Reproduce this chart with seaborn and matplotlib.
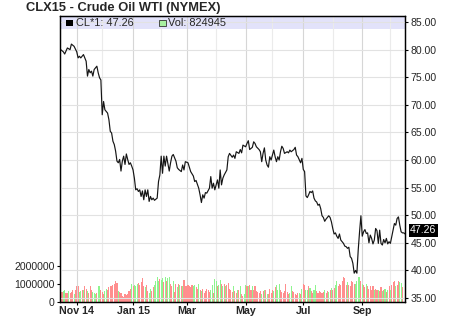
import numpy as np
import pandas as pd
import matplotlib
matplotlib.use("Agg")
import matplotlib.pyplot as plt
from matplotlib.patches import Rectangle
from matplotlib.ticker import FixedLocator
import seaborn as sns

# ---------------- data ----------------
title = "CLX15 - Crude Oil WTI (NYMEX)"
last_price = 47.26
last_volume = 824945

# trading-day number of each price reading, and the settle price
price_day = [0, 2, 3, 5, 7, 8, 10, 12, 13, 14, 15, 17, 18, 19, 20, 21, 22, 23, 24, 25,
             27, 28, 29, 30, 31, 32, 33, 35, 36, 37, 38, 39, 40, 41, 42, 43, 44, 45, 46, 47,
             48, 49, 50, 51, 52, 53, 54, 55, 56, 57, 58, 59, 60, 61, 62, 63, 64, 65, 66, 67,
             68, 69, 70, 71, 72, 73, 74, 75, 76, 77, 78, 79, 81, 82, 83, 84, 86, 87,
             88, 90, 91, 92, 93, 95, 96, 97, 99, 100, 101, 103, 104, 105, 106, 107, 108, 109,
             111, 112, 113, 114, 115, 117, 118, 119, 120, 121, 122, 124, 125, 126, 128, 129,
             130, 131, 133, 134, 135, 136, 138, 139, 140, 141, 143, 144, 145, 146, 148, 149,
             150, 151, 152, 153, 154, 155, 156, 157, 159, 160, 161, 162, 163, 164, 165, 166,
             167, 169, 170, 171, 172, 174, 175,
             176, 177, 179, 180, 181, 182, 183, 184, 185, 186, 187, 188, 189, 190, 191, 192,
             193, 194, 195, 196, 197, 198, 200, 201, 202, 203, 204, 205, 206, 207, 208, 209,
             210, 211, 212, 213, 214, 215, 216, 217, 218, 219, 220, 221, 222, 223, 224, 225,
             226, 227, 228, 229, 230, 231, 232, 233, 234, 235, 236, 237, 238, 239, 240, 241,
             242, 243, 244, 245, 246, 247, 248, 249, 250, 251, 252, 253, 254, 255, 256, 257, 258]
price = [80.0, 79.6, 79.2, 80.3, 80.0, 81.0, 80.6, 79.6, 78.5, 78.8, 78.5, 79.1, 78.5, 77.9, 75.2, 76.4, 75.8, 76.1, 75.2, 76.4,
         77.0, 75.8, 74.9, 74.5, 68.2, 70.6, 69.1, 68.5, 67.3, 65.2, 64.9, 63.4, 62.8, 61.6, 59.8, 59.5, 60.1, 58.0, 59.8, 60.7,
         59.2, 61.1, 60.1, 59.2, 59.5, 58.9, 58.2, 56.7, 54.6, 54.8, 54.3, 54.6, 53.4, 54.4, 52.8, 54.6, 53.4, 54.6, 52.5, 53.4,
         52.8, 53.1, 52.7, 52.9, 53.1, 56.1, 57.3, 60.7, 57.6, 60.7, 58.9, 60.7, 58.0, 59.5, 60.7, 61.0, 59.8, 58.6,
         58.3, 57.9, 59.1, 58.2, 59.7, 59.5, 58.7, 57.9, 57.1, 56.1, 56.3, 54.9, 53.7, 52.3, 53.7, 53.1, 54.1, 54.0,
         54.9, 57.0, 54.9, 55.8, 54.6, 56.4, 54.9, 58.2, 55.5, 56.7, 57.3, 58.2, 60.6, 61.2, 60.5, 60.9,
         60.3, 61.5, 61.2, 61.9, 61.3, 62.7, 62.4, 63.0, 63.5, 61.9, 62.3, 63.3, 63.0, 62.4, 61.9, 61.5,
         59.7, 61.2, 62.2, 60.0, 59.1, 58.7, 60.6, 60.0, 61.8, 60.6, 59.7, 60.6, 60.0, 61.5, 62.5, 62.1,
         61.2, 61.5, 61.3, 61.8, 61.5, 61.9, 62.3,
         60.9, 60.6, 59.5, 60.3, 58.3, 57.9, 53.5, 53.2, 53.7, 54.3, 54.1, 54.4, 53.1, 52.6, 52.4, 51.8,
         52.0, 51.2, 49.9, 49.6, 48.9, 49.3, 49.9, 49.6, 48.8, 47.6, 46.6, 46.8, 46.2, 45.8, 46.6, 45.5,
         45.2, 44.9, 44.4, 44.3, 44.0, 44.2, 42.5, 42.2, 41.3, 39.5, 40.0, 39.5, 43.7, 47.0, 49.9, 46.2,
         47.0, 47.4, 46.7, 46.8, 45.0, 46.4, 45.8, 44.8, 45.5, 47.6, 47.2, 44.9, 47.3, 44.9, 44.6, 45.6,
         45.0, 45.8, 44.8, 45.2, 44.9, 46.1, 47.3, 48.5, 48.2, 49.4, 49.7, 48.2, 47.0, 46.8, 46.8, 46.6, 47.26]

# daily volume (thousands of contracts), one per trading day
volume_k = [607, 554, 607, 643, 500, 500, 607, 500, 554, 643,
            464, 679, 857, 857, 554, 607, 643, 679, 857, 732,
            607, 500, 857, 643, 554, 500, 464, 500, 857, 857,
            643, 554, 464, 607, 732, 679, 821, 857, 857, 911,
            1000, 1179, 1036, 607, 554, 500, 321, 250, 429, 375,
            429, 607, 732, 964, 857, 911, 857, 1000, 1036, 911,
            1089, 1321, 857, 821, 911, 607, 500, 732, 607, 821,
            911, 1143, 1357, 1179, 1268, 1214, 1321, 1089, 1357, 1143,
            1321, 1357, 1000, 857, 1143, 554, 964, 821, 964, 911,
            857, 857, 1214, 857, 857, 911, 857, 821, 911, 857,
            911, 821, 732, 1000, 679, 607, 732, 500, 607, 732,
            679, 554, 679, 911, 500, 1268, 1143, 857, 911, 1214,
            1000, 857, 1000, 857, 911, 1036,
            732, 679, 554, 857, 607, 500, 643, 679, 857, 429,
            321, 464, 911, 857, 857, 911, 679, 857, 643, 857,
            607, 554, 500, 607, 429, 607, 679, 643, 464, 429,
            732, 500, 679, 607, 821, 911, 679, 964, 643, 554,
            500, 607, 964, 554, 464, 500, 857, 607, 554, 429,
            375, 500, 500, 429, 732, 964, 911, 643, 643, 857,
            786, 607, 500, 643, 911, 607, 500, 607, 554, 500,
            554, 643, 500, 607, 554, 643, 786, 679, 786, 911,
            1179, 857, 964, 911, 1179, 1357, 1321, 911, 1089, 911,
            857, 1143, 1089, 1000, 964, 1179, 1357, 1357, 1179, 964,
            911, 821, 964, 857, 732, 857, 679, 857, 679, 732,
            643, 643, 607, 821, 607, 679, 732, 554, 643, 857,
            679, 911, 1089, 1143, 857, 911, 1179, 1089, 1036, 825]

# G = up day (green bar), R = down day (red bar)
direction = ("GRGGRRGRRR" "GRRRGGRGRR" "GRRRGGGRGG" "RRRGGRRRRR" "RRRGRRRRRR"
             "RRRGRGGGRR" "RRRGRRGGRR" "GGGGRGGRGR" "GGRRGRRGRG" "RGRRRRRRRG"
             "GRRGRGRRRR" "RRGGRGGRGG" "RGRGRR"
             "RRRGRRGRGR" "RGGRGRRGRR" "RRRRGRGRGR" "RRRGRGGGRR" "RRRRRGGRRR"
             "RRGRGRRGGR" "GRRGGRRRRR" "RGRRGRGRRG" "GRRRRRRRGR" "RRRRGGGGRG"
             "RRGRRRRRGR" "RGRRGRGRGR" "GRRRGRRGGR")

month_day = [12, 54, 94, 138, 181, 225]
month_labels = ["Nov 14", "Jan 15", "Mar", "May", "Jul", "Sep"]
mid_month_day = [31, 75, 116, 158, 203, 246]
price_ticks = [35, 40, 45, 50, 55, 60, 65, 70, 75, 80, 85]
volume_ticks = [0, 1000000, 2000000]

# ---------------- style ----------------
sns.set_style("white")
plt.rcParams['font.family'] = ['Liberation Sans', 'DejaVu Sans']
FS = 7.6

n = min(len(volume_k), len(direction))
vol_df = pd.DataFrame({"day": np.arange(n),
                       "volume": np.array(volume_k[:n]) * 1000,
                       "direction": list(direction[:n])})
price_df = pd.DataFrame({"day": price_day, "price": price})

fig = plt.figure(figsize=(4.5, 3.17), dpi=100)
W, H = 450, 317
ax = fig.add_axes([60 / W, 1 - 302 / H, 345 / W, 286 / H])
ax2 = ax.twinx()

# lavender legend band
band_bottom = (302 - 29.5) / 286
ax.add_patch(Rectangle((0, band_bottom), 1, 1 - band_bottom, transform=ax.transAxes,
                       facecolor="#e2e2fa", edgecolor="none", zorder=0.1))

sns.barplot(data=vol_df, x="day", y="volume", hue="direction",
            palette={"G": "#8ef58e", "R": "#ff8e8e"}, native_scale=True,
            dodge=False, width=0.8, errorbar=None, legend=False,
            saturation=1, linewidth=0, ax=ax)

sns.lineplot(data=price_df, x="day", y="price", ax=ax2, color="#151515",
             linewidth=0.85)

ax.set_xlim(-0.5, 256.9)
ax.set_ylim(0, 15.75e6)
ax2.set_ylim(34.28, 86.09)

ax.set_xlabel("")
ax.set_ylabel("")
ax2.set_ylabel("")

ax.xaxis.set_major_locator(FixedLocator(month_day))
ax.set_xticklabels(month_labels, fontweight="bold", fontsize=FS + 0.1)
ax.xaxis.set_minor_locator(FixedLocator(mid_month_day))
ax.set_yticks(volume_ticks)
ax.set_yticklabels([str(v) for v in volume_ticks], fontsize=FS)
ax2.set_yticks(price_ticks)
ax2.set_yticklabels([f"{p:.2f}" for p in price_ticks], fontsize=FS)

ax.tick_params(axis="x", which="major", direction="out", length=2.5, width=0.8,
               pad=0.6, color="black", bottom=True)
ax.tick_params(axis="x", which="minor", length=0)
ax.tick_params(axis="y", direction="out", length=2.5, width=0.8, pad=1.5,
               color="black", left=True)
ax2.tick_params(axis="y", direction="out", length=2.5, width=0.8, pad=1.5,
                color="black", right=True)

ax.set_axisbelow(True)
ax.grid(axis="x", which="major", color="#d6d6d6", linewidth=0.8)
ax.grid(axis="x", which="minor", color="#ebebeb", linewidth=0.8)
ax.grid(axis="y", visible=False)
ax2.set_axisbelow(True)
ax2.grid(axis="y", color="#e2e2e2", linewidth=0.8)
ax2.grid(axis="x", visible=False)

for a in (ax, ax2):
    for s in a.spines.values():
        s.set_visible(True)
        s.set_color("black")
        s.set_linewidth(0.9)

# last-price marker on the right axis
ax2.text(1.0145, last_price, f"{last_price:.2f}", transform=ax2.get_yaxis_transform(),
         color="white", fontsize=FS, va="center", ha="left", clip_on=False,
         bbox=dict(facecolor="black", edgecolor="none", pad=0.8))

# title and legend
fig.text(26 / W, 1 - 8.5 / H, title, fontsize=9.3, fontweight="bold",
         ha="left", va="center")
fig.patches.append(Rectangle((66 / W, 1 - 26.3 / H), 6.5 / W, 6 / H,
                             transform=fig.transFigure, facecolor="black",
                             edgecolor="none"))
fig.text(76 / W, 1 - 23.3 / H, f"CL*1: {last_price:.2f}", fontsize=FS + 0.3,
         ha="left", va="center")
fig.patches.append(Rectangle((159 / W, 1 - 26.3 / H), 6.5 / W, 6 / H,
                             transform=fig.transFigure, facecolor="#a8f0a0",
                             edgecolor="#333333", linewidth=0.6))
fig.text(168 / W, 1 - 23.3 / H, f"Vol: {last_volume}", fontsize=FS + 0.3,
         ha="left", va="center")

fig.savefig("out.png", dpi=100)
